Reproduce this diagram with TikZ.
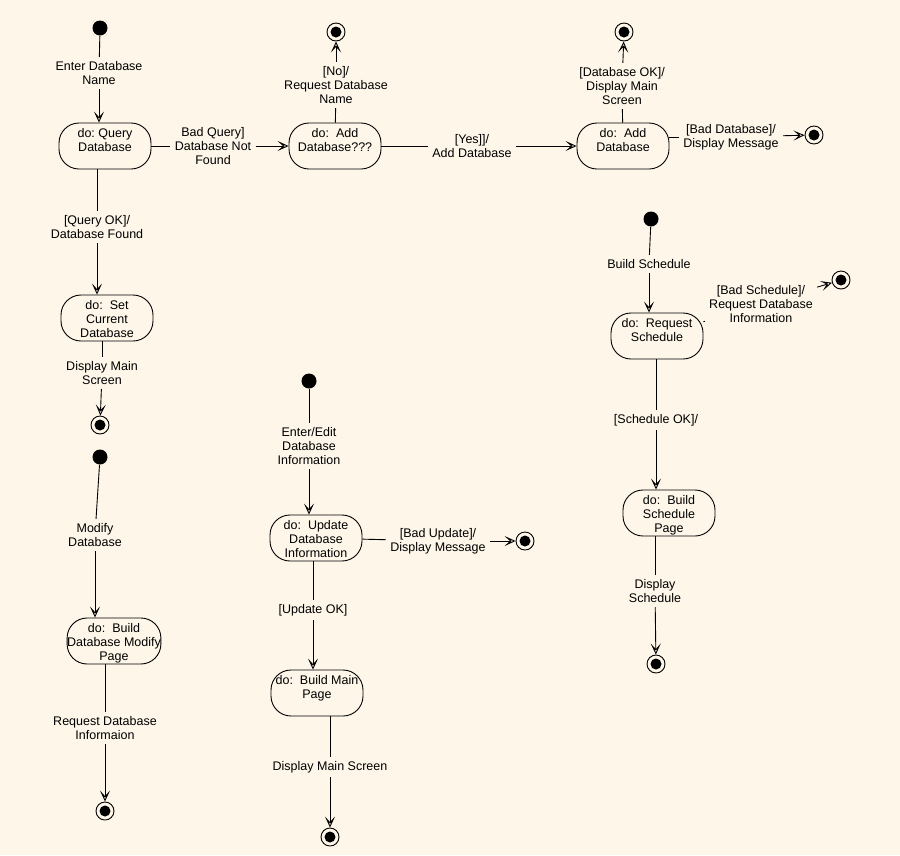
\documentclass[tikz,border=0pt]{standalone}
\usepackage{fontspec}
\setmainfont{Liberation Sans}
\usetikzlibrary{arrows.meta}
\definecolor{paper}{RGB}{253,246,233}
\tikzset{
  activity/.style={draw, rectangle, rounded corners=20pt, minimum width=92pt,
    minimum height=46pt, inner sep=0pt, align=center, text height=40pt, text depth=1pt},
  twolines/.style={text height=22pt, text depth=11pt},
  guard/.style={align=center, inner sep=4pt},
  startdot/.style={circle, fill=black, inner sep=0pt, minimum size=15pt},
  enddot/.style={circle, draw, fill=paper, inner sep=0pt, minimum size=18pt,
    path picture={\fill[black] (path picture bounding box.center) circle (5.5pt);}},
  flow/.style={-{Stealth[open,length=11pt,width=10pt,inset=5.5pt]}},
}
\begin{document}
\begin{tikzpicture}[x=1pt, y=-1pt, line width=0.9pt]
            \fill[paper] (0,0) rectangle (900,855);
            \useasboundingbox (0,0) rectangle (900,855);
            {\fontsize{12.5}{14}\selectfont

            % Marking states of the query chart
            \node[startdot] (iA) at (100,28) {};
            \node[activity, twolines] (qdb) at (105,146) {do:~Query\\Database};
            \node[activity, twolines] (adb1) at (335,146) {do:~~Add\\Database???};
            \node[activity, twolines] (adb2) at (623,146) {do:~~Add\\Database};
            \node[activity] (setdb) at (107,318) {do:~~Set\\Current\\Database};
            \node[enddot] (fA1) at (336,32) {};
            \node[enddot] (fA2) at (624,32) {};
            \node[enddot] (fA3) at (814,135) {};
            \node[enddot] (fA4) at (100,425) {};

            % Marking guards of the query chart
            \node[guard] (lA1) at (99,73) {Enter Database\\Name};
            \node[guard] (lA2) at (213,146) {Bad Query]\\Database Not\\Found};
            \node[guard] (lA3) at (336,85) {[No]/\\Request Database\\Name};
            \node[guard] (lA4) at (472,146) {[Yes]]/\\Add Database};
            \node[guard] (lA5) at (622,86) {[Database OK]/\\Display Main\\Screen};
            \node[guard] (lA6) at (731,137) {[Bad Database]/\\Display Message};
            \node[guard] (lA7) at (97,227) {[Query OK]/\\Database Found};
            \node[guard] (lA8) at (102,373) {Display Main\\Screen};

            % Drawing transitions of the query chart
            \draw (iA) -- (lA1);
            \draw[flow] (lA1) -- (lA1 |- qdb.north);
            \draw (qdb) -- (lA2);
            \draw[flow] (lA2) -- (adb1);
            \draw (adb1) -- (lA3);
            \draw[flow] (lA3) -- (fA1);
            \draw (adb1) -- (lA4);
            \draw[flow] (lA4) -- (adb2);
            \draw (adb2) -- (lA5);
            \draw[flow] (lA5) -- (fA2);
            \draw (lA6 -| adb2.east) -- (lA6);
            \draw[flow] (lA6) -- (fA3);
            \draw (lA7 |- qdb.south) -- (lA7);
            \draw[flow] (lA7) -- (lA7 |- setdb.north);
            \draw (lA8 |- setdb.south) -- (lA8);
            \draw[flow] (lA8) -- (fA4);

            % Marking states of the modify chart
            \node[startdot] (iB) at (100,457) {};
            \node[activity] (bdm) at (114,641) {do:~~Build\\Database Modify\\Page};
            \node[enddot] (fB) at (105,811) {};
            \node[guard] (lB1) at (95,535) {Modify\\Database};
            \node[guard] (lB2) at (105,728) {Request Database\\Informaion};

            % Drawing transitions of the modify chart
            \draw (iB) -- (lB1);
            \draw[flow] (lB1) -- (lB1 |- bdm.north);
            \draw (lB2 |- bdm.south) -- (lB2);
            \draw[flow] (lB2) -- (fB);

            % Marking states of the update chart
            \node[startdot] (iC) at (309,381) {};
            \node[activity] (upd) at (316,538) {do:~~Update\\Database\\Information};
            \node[activity, twolines] (bmp) at (317,693) {do:~~Build Main\\Page};
            \node[enddot] (fC1) at (525,541) {};
            \node[enddot] (fC2) at (330,837) {};
            \node[guard] (lC1) at (309,446) {Enter/Edit\\Database\\Information};
            \node[guard] (lC2) at (438,541) {[Bad Update]/\\Display Message};
            \node[guard] (lC3) at (313,610) {[Update OK]};
            \node[guard] (lC4) at (330,767) {Display Main Screen};

            % Drawing transitions of the update chart
            \draw (iC) -- (lC1);
            \draw[flow] (lC1) -- (lC1 |- upd.north);
            \draw (upd) -- (lC2);
            \draw[flow] (lC2) -- (fC1);
            \draw (lC3 |- upd.south) -- (lC3);
            \draw[flow] (lC3) -- (lC3 |- bmp.north);
            \draw (lC4 |- bmp.south) -- (lC4);
            \draw[flow] (lC4) -- (fC2);

            % Marking states of the schedule chart
            \node[startdot] (iD) at (651,219) {};
            \node[activity, twolines] (rs) at (657,336) {do:~~Request\\Schedule};
            \node[activity] (bsp) at (669,513) {do:~~Build\\Schedule\\Page};
            \node[enddot] (fD1) at (841,280) {};
            \node[enddot] (fD2) at (656,664) {};
            \node[guard] (lD1) at (649,264) {Build Schedule};
            \node[guard] (lD2) at (761,304) {[Bad Schedule]/\\Request Database\\Information};
            \node[guard] (lD3) at (656,420) {[Schedule OK]/};
            \node[guard] (lD4) at (655,591) {Display\\Schedule};

            % Drawing transitions of the schedule chart
            \draw (iD) -- (lD1);
            \draw[flow] (lD1) -- (lD1 |- rs.north);
            \draw (rs) -- (lD2);
            \draw[flow] (lD2) -- (fD1);
            \draw (lD3 |- rs.south) -- (lD3);
            \draw[flow] (lD3) -- (lD3 |- bsp.north);
            \draw (lD4 |- bsp.south) -- (lD4);
            \draw[flow] (lD4) -- (fD2);
            }
\end{tikzpicture}
\end{document}
